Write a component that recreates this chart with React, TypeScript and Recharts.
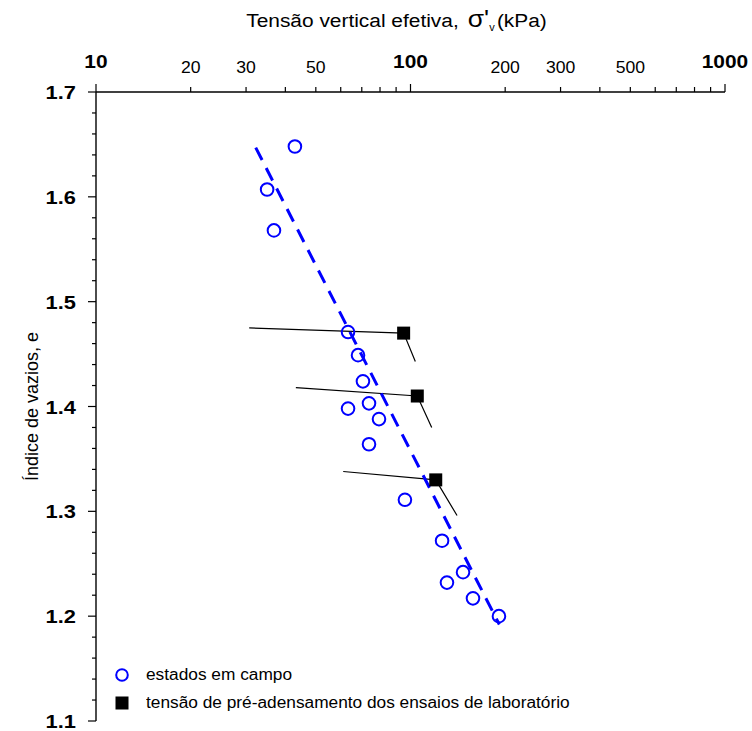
import React from 'react';
import { ComposedChart, Scatter, XAxis, YAxis, Legend } from 'recharts';

// Field states: effective vertical stress (kPa) and void ratio
const fieldStress = [42.9, 35.0, 36.8, 63.3, 68.1, 70.6, 73.8, 63.3, 79.4, 73.8, 96.0, 126.0, 146.9, 130.6, 158.0, 191.1];
const fieldVoid = [1.648, 1.607, 1.568, 1.471, 1.449, 1.424, 1.403, 1.398, 1.388, 1.364, 1.311, 1.272, 1.242, 1.232, 1.217, 1.2];

// Preconsolidation stress from the laboratory tests
const preStress = [95.1, 105.1, 120.3];
const preVoid = [1.47, 1.41, 1.33];

// Start of the recompression branch and end of the virgin branch for each test
const curveStartStress = [30.7, 43.2, 61.1];
const curveStartVoid = [1.475, 1.418, 1.338];
const curveEndStress = [103.6, 116.8, 140.6];
const curveEndVoid = [1.443, 1.38, 1.296];

// Trend line through the field states
const trendStress = [32.2, 191.6];
const trendVoid = [1.647, 1.192];

const xTicks = [10, 20, 30, 40, 50, 60, 70, 80, 90, 100, 200, 300, 400, 500, 600, 700, 800, 900, 1000];
const xLabeled = [10, 20, 30, 50, 100, 200, 300, 500, 1000];
const xMajor = [10, 100, 1000];
const yTicks = [
  1.1, 1.12, 1.14, 1.16, 1.18, 1.2, 1.22, 1.24, 1.26, 1.28, 1.3, 1.32, 1.34, 1.36, 1.38, 1.4,
  1.42, 1.44, 1.46, 1.48, 1.5, 1.52, 1.54, 1.56, 1.58, 1.6, 1.62, 1.64, 1.66, 1.68, 1.7,
];

const FONT = '"Liberation Sans", Arial, Helvetica, sans-serif';
const BLUE = '#0000ff';

const fieldData = fieldStress.map((s, i) => ({ x: s, y: fieldVoid[i] }));
const preData = preStress.map((s, i) => ({ x: s, y: preVoid[i] }));
const curves = preStress.map((s, i) => [
  { x: curveStartStress[i], y: curveStartVoid[i] },
  { x: s, y: preVoid[i] },
  { x: curveEndStress[i], y: curveEndVoid[i] },
]);
const trendData = trendStress.map((s, i) => ({ x: s, y: trendVoid[i] }));

// Text drawn slightly wider than the font's natural proportions
const WideText = ({ x, y, sx = 1.1, anchor = 'middle', children, ...rest }: any) => (
  <g transform={`translate(${x} ${y}) scale(${sx} 1)`}>
    <text x={0} y={0} textAnchor={anchor} fontFamily={FONT} fill="#000" {...rest}>
      {children}
    </text>
  </g>
);

const XTick = (props: any) => {
  const { x, y, payload } = props;
  const v = payload.value;
  const major = xMajor.includes(v);
  const labeled = xLabeled.includes(v);
  return (
    <g>
      <line x1={x} x2={x} y1={y} y2={y - (major ? 8 : 5)} stroke="#000" strokeWidth={1.2} />
      {labeled && (
        <WideText
          x={x}
          y={y - (major ? 24 : 19)}
          sx={1.1}
          fontSize={major ? 19 : 16}
          fontWeight={major ? 'bold' : 'normal'}
        >
          {v}
        </WideText>
      )}
    </g>
  );
};

const YTick = (props: any) => {
  const { x, y, payload } = props;
  const v = payload.value as number;
  const major = Math.round(v * 100) % 10 === 0;
  return (
    <g>
      <line x1={x} x2={x - (major ? 8 : 4)} y1={y} y2={y} stroke="#000" strokeWidth={1.2} />
      {major && (
        <WideText x={x - 20} y={y + 7} sx={1.15} anchor="end" fontSize={19} fontWeight="bold">
          {v.toFixed(1)}
        </WideText>
      )}
    </g>
  );
};

const OpenCircle = (props: any) => {
  const { cx, cy } = props;
  if (cx == null || cy == null) return <g />;
  return <circle cx={cx} cy={cy} r={6.3} fill="none" stroke={BLUE} strokeWidth={2} />;
};

const FilledSquare = (props: any) => {
  const { cx, cy } = props;
  if (cx == null || cy == null) return <g />;
  return <rect x={cx - 6.5} y={cy - 6.5} width={13} height={13} fill="#000" />;
};

const NoMark = () => <g />;

const XTitle = (props: any) => {
  const vb = props.viewBox || { x: 0, y: 0, width: 0 };
  return (
    <WideText x={vb.x + vb.width / 2 - 14} y={vb.y - 5} sx={1.1} fontSize={19}>
      <tspan>Tensão vertical efetiva, </tspan>
      <tspan fontSize={24} dx={3}>σ'</tspan>
      <tspan fontSize={10} dy={4}>v</tspan>
      <tspan dy={-4} dx={2}>(kPa)</tspan>
    </WideText>
  );
};

const YTitle = (props: any) => {
  const vb = props.viewBox || { x: 0, y: 0, height: 0 };
  const cx = vb.x + 6;
  const cy = vb.y + vb.height / 2;
  return (
    <text
      x={cx}
      y={cy}
      transform={`rotate(-90 ${cx} ${cy})`}
      textAnchor="middle"
      dominantBaseline="central"
      fontFamily={FONT}
      fontSize={18}
      fill="#000"
    >
      Índice de vazios, e
    </text>
  );
};

const legendText = {
  display: 'inline-block',
  transform: 'scaleX(1.08)',
  transformOrigin: 'left center',
  whiteSpace: 'nowrap' as const,
};

const LegendBox = () => (
  <div style={{ fontFamily: FONT, fontSize: 16, color: '#000', lineHeight: '28px' }}>
    <div style={{ display: 'flex', alignItems: 'center', height: 28 }}>
      <svg width={14} height={14} style={{ marginRight: 17 }}>
        <circle cx={7} cy={7} r={5.8} fill="none" stroke={BLUE} strokeWidth={2} />
      </svg>
      <span style={legendText}>estados em campo</span>
    </div>
    <div style={{ display: 'flex', alignItems: 'center', height: 28 }}>
      <svg width={14} height={14} style={{ marginRight: 17 }}>
        <rect x={0.5} y={0.5} width={13} height={13} fill="#000" />
      </svg>
      <span style={legendText}>tensão de pré-adensamento dos ensaios de laboratório</span>
    </div>
  </div>
);

const frameLine = {
  stroke: '#000',
  strokeWidth: 1.4,
  style: { filter: 'drop-shadow(1.5px 1.5px 0px #9a9a9a)' },
};

export default function App() {
  return (
    <div style={{ position: 'absolute', left: 0, top: 0, width: 752, height: 731, background: '#fff' }}>
      <ComposedChart
        width={752}
        height={731}
        margin={{ top: 32, right: 27, bottom: 10, left: 26 }}
      >
        <XAxis
          xAxisId="t"
          dataKey="x"
          type="number"
          scale="log"
          domain={[10, 1000]}
          allowDataOverflow
          orientation="top"
          ticks={xTicks}
          interval={0}
          height={60}
          tickSize={0}
          tickMargin={0}
          tickLine={false}
          tick={<XTick />}
          axisLine={{ stroke: '#000', strokeWidth: 1.4 }}
          label={<XTitle />}
        />
        <XAxis
          xAxisId="b"
          dataKey="x"
          type="number"
          scale="log"
          domain={[10, 1000]}
          allowDataOverflow
          orientation="bottom"
          height={0}
          tick={false}
          tickLine={false}
          axisLine={frameLine}
        />
        <YAxis
          yAxisId="l"
          dataKey="y"
          type="number"
          domain={[1.1, 1.7]}
          allowDataOverflow
          ticks={yTicks}
          interval={0}
          width={70}
          tickSize={0}
          tickMargin={0}
          tickLine={false}
          tick={<YTick />}
          axisLine={{ stroke: '#000', strokeWidth: 1.4 }}
          label={<YTitle />}
        />
        <YAxis
          yAxisId="r"
          dataKey="y"
          type="number"
          domain={[1.1, 1.7]}
          allowDataOverflow
          orientation="right"
          width={0}
          tick={false}
          tickLine={false}
          axisLine={frameLine}
        />
        {curves.map((c, i) => (
          <Scatter
            key={`curve-${i}`}
            xAxisId="t"
            yAxisId="l"
            data={c}
            line={{ stroke: '#000', strokeWidth: 1.2 }}
            shape={<NoMark />}
            legendType="none"
            isAnimationActive={false}
          />
        ))}
        <Scatter
          name="estados em campo"
          xAxisId="t"
          yAxisId="l"
          data={fieldData}
          shape={<OpenCircle />}
          isAnimationActive={false}
        />
        <Scatter
          xAxisId="t"
          yAxisId="l"
          data={trendData}
          line={{ stroke: BLUE, strokeWidth: 3, strokeDasharray: '14 9' }}
          shape={<NoMark />}
          legendType="none"
          isAnimationActive={false}
        />
        <Scatter
          name="tensão de pré-adensamento dos ensaios de laboratório"
          xAxisId="t"
          yAxisId="l"
          data={preData}
          shape={<FilledSquare />}
          isAnimationActive={false}
        />
        <Legend
          layout="horizontal"
          verticalAlign="middle"
          align="center"
          wrapperStyle={{ left: 115, top: 661, width: 'auto', height: 'auto' }}
          content={<LegendBox />}
        />
      </ComposedChart>
    </div>
  );
}
